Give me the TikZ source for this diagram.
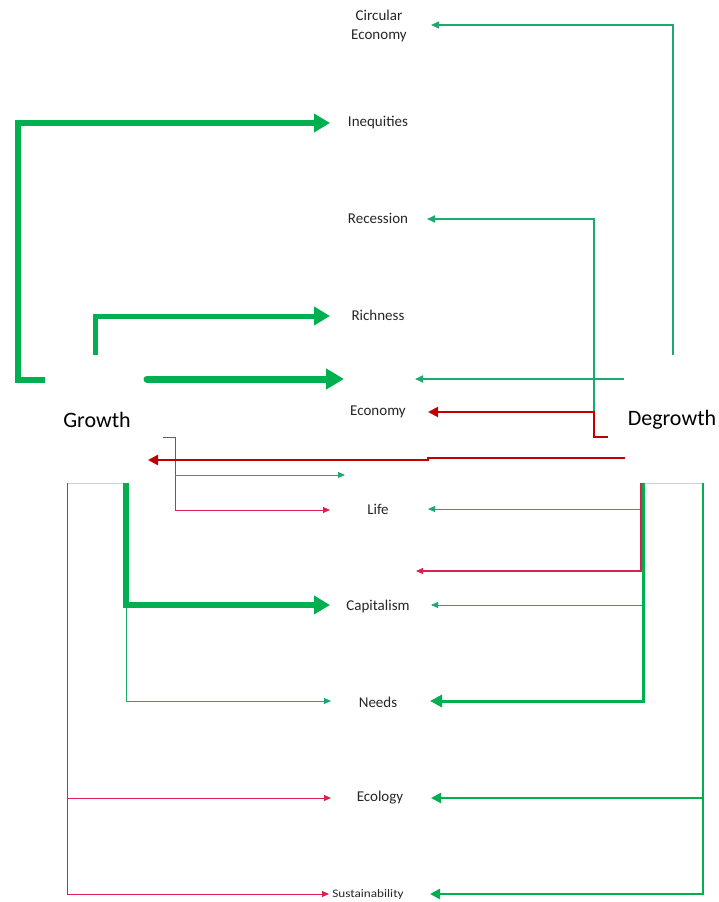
\documentclass[tikz,border=0pt]{standalone}
\usepackage{fontspec}
\setmainfont{Carlito}
\usetikzlibrary{arrows.meta}
\definecolor{gD}{HTML}{00B050}
\definecolor{gT}{HTML}{1DAA6E}
\definecolor{rD}{HTML}{C00000}
\definecolor{rT}{HTML}{D9234F}
\tikzset{
 lbl/.style={font=\fontsize{15}{19}\selectfont, inner sep=0pt, text=black!85},
 big/.style={font=\fontsize{22}{26}\selectfont, inner sep=0pt},
 gthick/.style={draw=gD, line width=6pt, -{Triangle[length=16pt,width=18pt]}},
 gmed/.style={draw=gD, line width=2.6pt, -{Triangle[length=10pt,width=10pt]}},
 gthin/.style={draw=gT, line width=1.3pt, -{Triangle[length=8pt,width=7pt]}},
 ghair/.style={draw=gT, line width=0.9pt, -{Triangle[length=7pt,width=6pt]}},
 rmed/.style={draw=rD, line width=2.2pt, -{Triangle[length=10pt,width=10pt]}},
 rthin/.style={draw=rT, line width=0.9pt, -{Triangle[length=7pt,width=6pt]}},
 faint/.style={draw=black!18, line width=0.6pt},
}
\begin{document}
\begin{tikzpicture}[x=1pt,y=-1pt]
\useasboundingbox (0,0) rectangle (718,902);
\fill[white] (0,0) rectangle (718,902);

% labels
\node[lbl,align=center] (circ) at (379,26) {Circular\\Economy};
\node[lbl] (ineq) at (378,123) {Inequities};
\node[lbl] (rec) at (378,218) {Recession};
\node[lbl] (rich) at (378,315) {Richness};
\node[lbl] (econ) at (378,412) {Economy};
\node[lbl] (life) at (378,509) {Life};
\node[lbl] (cap) at (378,606) {Capitalism};
\node[lbl] (needs) at (378,702) {Needs};
\node[lbl] (eco) at (380,798) {Ecology};
\node[lbl, font=\fontsize{11.5}{14}\selectfont, xscale=1.15] (sus) at (368,894) {Sustainability};
\node[big] (grow) at (97,420) {Growth};
\node[big] (degr) at (672,420) {Degrowth};

% coordinates: free ends and tips
\coordinate (gA) at (45,380);
\coordinate (ineqT) at (330,123);
\coordinate (gB) at (95,355);
\coordinate (richT) at (330,316);
\coordinate (gC) at (147,379);
\coordinate (econTL) at (344,379);
\coordinate (dA) at (624,379);
\coordinate (econTR) at (415,379);
\coordinate (dB) at (673,355);
\coordinate (circT) at (431,25);
\coordinate (dC) at (594,412);
\coordinate (recT) at (427,219);
\coordinate (dD) at (608,437);
\coordinate (econRT) at (428,412);
\coordinate (dE) at (625,458);
\coordinate (growT) at (148,460);
\coordinate (gD1) at (163,437);
\coordinate (lifeTL) at (330,510);
\coordinate (gE) at (175,475);
\coordinate (midT) at (345,475);
\coordinate (dF) at (642,509);
\coordinate (lifeTR) at (428,509);
\coordinate (dG) at (641,483);
\coordinate (redT) at (416,571);
\coordinate (dH) at (642,605);
\coordinate (capTR) at (431,605);
\coordinate (dI) at (643,483);
\coordinate (needsTR) at (430,701);
\coordinate (dJ) at (703,483);
\coordinate (susTR) at (430,894);
\coordinate (dK) at (703,798);
\coordinate (ecoTR) at (431,798);
\coordinate (gF) at (67,483);
\coordinate (gG) at (126,483);
\coordinate (capTL) at (330,605);
\coordinate (needsTL) at (331,701);
\coordinate (ecoTL) at (331,798);
\coordinate (susTL) at (329,894);

% faint frames
\draw[faint] (gF) -- (gG);
\draw[faint] (dI) -- (dJ);

% Growth side, thick green
\draw[gthick] (gA) -- (18,380) -- (18,123) -- (ineqT);
\draw[gthick, line width=5pt] (gB) -- (95,316) -- (richT);
\draw[gthick, line width=7pt, line cap=round, -{Triangle[length=18pt,width=20pt]}] (gC) -- (econTL);
\draw[gthick] (gG) -- (126,605) -- (capTL);
\draw[ghair] (126,605) -- (126,701) -- (needsTL);

% Growth side, red
\draw[rthin] (gF) -- (67,894) -- (susTL);
\draw[rthin] (67,798) -- (ecoTL);
\draw[rthin] (gD1) -- (175,437) -- (175,510) -- (lifeTL);
\draw[ghair] (gE) -- (midT);

% Degrowth side
\draw[gthin, line width=1.4pt] (dB) -- (673,25) -- (circT);
\draw[gthin, line width=1.8pt] (dC) -- (594,219) -- (recT);
\draw[gthin, line width=1.8pt] (dA) -- (econTR);
\draw[rmed, line width=1.8pt] (dD) -- (594,437) -- (594,412) -- (econRT);
\draw[rmed, line width=2.4pt] (dE) -- (428,458) -- (428,460) -- (growT);
\draw[ghair] (dF) -- (lifeTR);
\draw[gmed, line width=3pt, -{Triangle[length=12pt,width=12pt]}] (dI) -- (643,701) -- (needsTR);
\draw[rthin, line width=1.2pt] (dG) -- (641,571) -- (redT);
\draw[ghair] (dH) -- (capTR);
\draw[gmed] (dJ) -- (703,894) -- (susTR);
\draw[gmed, line width=2.2pt] (dK) -- (ecoTR);
\end{tikzpicture}
\end{document}
